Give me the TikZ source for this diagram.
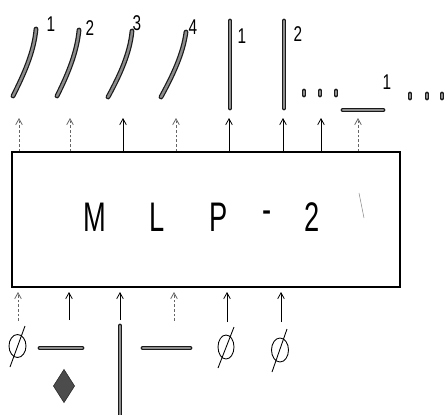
\documentclass[tikz,border=0pt]{standalone}
\usepackage{fontspec}
\setmainfont{Liberation Sans}
\usetikzlibrary{arrows.meta,fit,shapes.geometric}
\begin{document}
\begin{tikzpicture}[x=0.75pt,y=-0.75pt,
  arr/.style={-{Straight Barb[length=4.5pt,width=5pt]}, line width=0.6pt},
  faint/.style={dashed, draw=black!60, dash pattern=on 2pt off 1.5pt},
  bar/.style={line width=3.6pt, draw=black!90, line cap=round,
    postaction={draw=black!45, line width=1.8pt, line cap=round}},
  dotbar/.style={line width=3.6pt, draw=black!90, line cap=round,
    postaction={draw=black!45, line width=1.4pt, line cap=round}},
  lbl/.style={inner sep=0pt, font=\fontsize{16}{16}\selectfont, xscale=0.72},
  big/.style={inner sep=0pt, font=\fontsize{31}{31}\selectfont, xscale=0.66},
  nul/.style={line width=0.65pt}]
\useasboundingbox (0,0) rectangle (448,414);

% main box
\coordinate (bl) at (12,152);
\coordinate (br) at (400,287);
\node[draw, line width=0.9pt, inner sep=0pt, fit=(bl)(br)] (box) {};
\node[big] (tM) at (95,217) {M};
\node[big] (tL) at (157,217) {L};
\node[big] (tP) at (219,217) {P};
\node[big] (td) at (267,217) {-};
\node[big] (t2) at (312,217) {2};
\draw[black!45, line width=0.4pt] (359,193) -- (364,218);

% top outputs: curved strokes
\draw[bar] (13,96) .. controls (24,74) and (34,52) .. (36,29);
\draw[bar] (57,96) .. controls (68,74) and (77,52) .. (79,30);
\draw[bar] (108,97) .. controls (120,75) and (130,53) .. (132,31);
\draw[bar] (161,97) .. controls (173,75) and (183,54) .. (186,32);
\node[lbl] (l1) at (51,24) {1};
\node[lbl] (l2) at (90,28) {2};
\node[lbl] (l3) at (137,23) {3};
\node[lbl] (l4) at (193,27) {4};

% vertical bars
\draw[bar] (230,21) -- (230,108);
\draw[bar] (284,21) -- (284,108);
\node[lbl] (l5) at (242,36) {1};
\node[lbl] (l6) at (298,34) {2};
\draw[dotbar] (304,91) -- (304,95);
\draw[dotbar] (320,91) -- (320,95);
\draw[dotbar] (336,91) -- (336,95);
\draw[bar] (343,110) -- (383,110);
\node[lbl] (l7) at (387,82) {1};
\draw[dotbar] (410,94) -- (410,98);
\draw[dotbar] (427,94) -- (427,98);
\draw[dotbar] (442,94) -- (442,98);

% top arrows
\coordinate (u1) at (19,118);
\coordinate (u2) at (70,118);
\coordinate (u3) at (123,118);
\coordinate (u4) at (176,118);
\coordinate (u5) at (229,118);
\coordinate (u6) at (283,118);
\coordinate (u7) at (321,118);
\coordinate (u8) at (358,118);
\draw[arr, faint] (u1 |- box.north) -- (u1);
\draw[arr, faint] (u2 |- box.north) -- (u2);
\draw[arr] (u3 |- box.north) -- (u3);
\draw[arr, faint] (u4 |- box.north) -- (u4);
\draw[arr] (u5 |- box.north) -- (u5);
\draw[arr] (u6 |- box.north) -- (u6);
\draw[arr] (u7 |- box.north) -- (u7);
\draw[arr, faint] (u8 |- box.north) -- (u8);

% bottom arrows
\coordinate (d1) at (18,292);  \coordinate (e1) at (18,321);
\coordinate (d2) at (69,292);  \coordinate (e2) at (69,320);
\coordinate (d3) at (120,292); \coordinate (e3) at (120,320);
\coordinate (d4) at (174,292); \coordinate (e4) at (174,321);
\coordinate (d5) at (227,292); \coordinate (e5) at (227,322);
\coordinate (d6) at (281,292); \coordinate (e6) at (281,322);
\draw[arr, faint] (e1) -- (d1);
\draw[arr] (e2) -- (d2);
\draw[arr] (e3) -- (d3);
\draw[arr, faint] (e4) -- (d4);
\draw[arr] (e5) -- (d5);
\draw[arr] (e6) -- (d6);

% bottom inputs
\draw[nul] (17.5,346) ellipse [x radius=8.5, y radius=11.5];
\draw[nul] (10,367) -- (25,326);
\draw[bar] (40,348) -- (82,348);
\node[diamond, fill=black!70, draw=black!85, inner sep=0pt,
      minimum width=16pt, minimum height=25pt] (dia) at (64,386) {};
\draw[bar] (120,326) -- (120,416);
\draw[bar] (143,348) -- (190,348);
\draw[nul] (226,347) ellipse [x radius=8, y radius=12];
\draw[nul] (218,368) -- (234,327);
\draw[nul] (280,350) ellipse [x radius=8.5, y radius=12];
\draw[nul] (272,372) -- (287,329);
\end{tikzpicture}
\end{document}
